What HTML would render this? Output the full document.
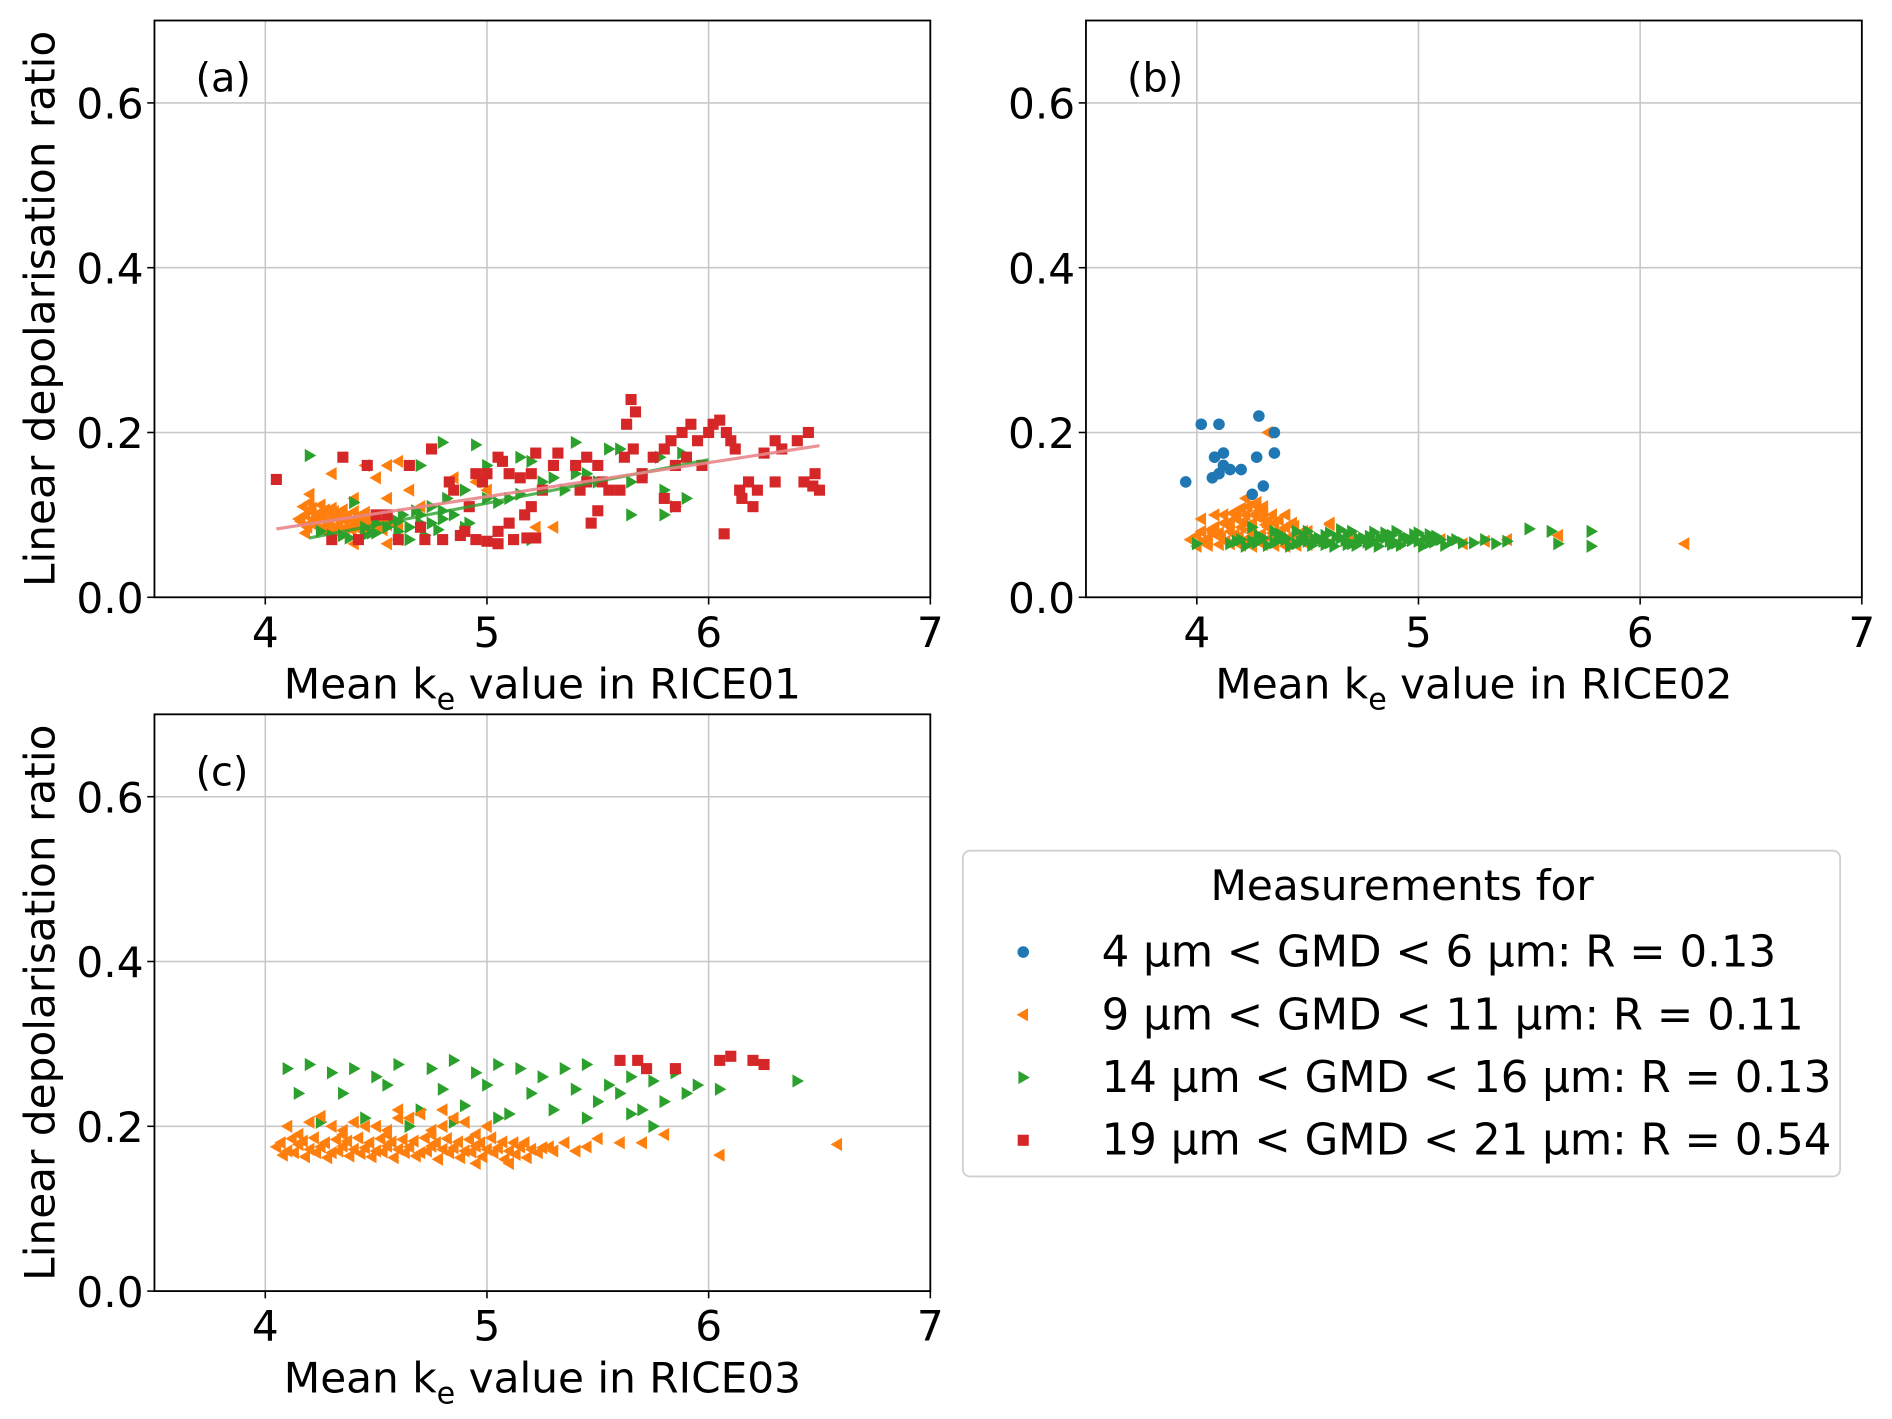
<!DOCTYPE html>
<html><head><meta charset="utf-8"><style>
html,body{margin:0;padding:0;background:#fff}
svg{display:block;font-family:"DejaVu Sans","Liberation Sans",sans-serif}
</style></head><body>
<svg id="fig" width="1892" height="1419" viewBox="0 0 1568 1176" xmlns="http://www.w3.org/2000/svg"></svg>
<script>
// ---------- DATA ----------
// Panel (a) RICE01
const aOrangeX=[4.15,4.18,4.2,4.22,4.25,4.28,4.3,4.33,4.35,4.38,4.4,4.43,4.45,4.48,4.5,4.52,4.55,4.17,4.21,4.24,4.27,4.31,4.34,4.37,4.41,4.44,4.47,4.5,4.19,4.23,4.26,4.29,4.32,4.36,4.39,4.42,4.46,4.53,4.2,4.25,4.3,4.35,4.4,4.45,4.2,4.3,4.45,4.55,4.6,4.5,4.4,4.55,4.65,4.7,4.85,4.95,5.0,5.3,5.22,4.55,4.4,4.6,4.18,4.28,4.16,4.19,4.22,4.26,4.29,4.33,4.37,4.41,4.45,4.49,4.53,4.57,4.6,4.24,4.32,4.38];
const aOrangeY=[0.095,0.1,0.105,0.09,0.098,0.092,0.1,0.088,0.095,0.09,0.094,0.1,0.088,0.092,0.09,0.085,0.088,0.11,0.108,0.1,0.106,0.104,0.101,0.098,0.097,0.095,0.097,0.098,0.085,0.086,0.085,0.083,0.082,0.084,0.082,0.083,0.081,0.082,0.115,0.112,0.108,0.106,0.104,0.103,0.125,0.15,0.16,0.16,0.165,0.145,0.12,0.12,0.13,0.11,0.145,0.14,0.13,0.085,0.085,0.065,0.065,0.07,0.078,0.078,0.092,0.088,0.096,0.094,0.09,0.094,0.092,0.088,0.093,0.089,0.092,0.09,0.088,0.102,0.097,0.087];
const aGreenX=[4.2,4.8,4.95,4.7,4.4,5.4,5.55,5.15,5.0,5.2,5.4,5.45,5.6,5.35,5.5,5.65,5.8,5.9,5.65,5.8,5.85,5.88,5.78,4.3,4.35,4.45,4.5,4.6,4.65,4.7,4.75,4.8,4.85,4.9,5.0,5.05,5.1,5.15,4.58,4.62,4.68,4.72,4.55,4.5,4.75,4.82,4.9,5.2,4.65,4.45,4.48,4.8,4.92,5.25,5.3,4.25,4.38,4.6,4.7,4.78];
const aGreenY=[0.172,0.188,0.185,0.16,0.115,0.188,0.18,0.17,0.16,0.165,0.15,0.15,0.18,0.13,0.14,0.14,0.13,0.12,0.1,0.1,0.11,0.175,0.17,0.075,0.075,0.075,0.078,0.08,0.085,0.09,0.09,0.095,0.1,0.085,0.12,0.115,0.12,0.125,0.095,0.1,0.105,0.075,0.085,0.09,0.11,0.12,0.13,0.07,0.07,0.085,0.078,0.105,0.09,0.14,0.145,0.08,0.072,0.092,0.1,0.082];
const aRedX=[4.05,4.35,4.46,4.5,4.55,4.65,4.75,4.85,4.95,4.98,5.05,5.07,5.1,5.15,5.2,5.22,5.25,5.3,5.32,5.4,5.45,5.42,5.5,5.52,5.55,5.6,5.62,5.65,5.67,5.63,5.66,5.7,5.75,5.8,5.83,5.85,5.88,5.9,5.92,5.95,5.97,6.0,6.02,6.05,6.08,6.1,6.12,6.14,6.15,6.18,6.2,6.22,6.25,6.3,6.33,6.3,6.4,6.45,6.43,6.47,6.5,6.48,6.07,5.8,5.85,5.47,5.5,4.6,4.72,4.8,4.88,5.0,5.05,5.12,5.18,5.22,4.95,5.1,5.05,4.7,4.9,4.42,4.3,5.17,5.2,4.92,5.45,5.7,5.0,4.83];
const aRedY=[0.143,0.17,0.16,0.1,0.1,0.16,0.18,0.13,0.15,0.14,0.17,0.165,0.15,0.145,0.15,0.175,0.13,0.16,0.175,0.16,0.17,0.13,0.16,0.14,0.13,0.13,0.17,0.24,0.225,0.21,0.18,0.15,0.17,0.18,0.19,0.16,0.2,0.17,0.21,0.19,0.16,0.2,0.21,0.215,0.2,0.19,0.18,0.13,0.12,0.14,0.11,0.13,0.175,0.19,0.18,0.14,0.19,0.2,0.14,0.135,0.13,0.15,0.077,0.12,0.11,0.09,0.105,0.07,0.07,0.07,0.075,0.068,0.065,0.07,0.072,0.072,0.07,0.09,0.08,0.085,0.08,0.07,0.07,0.1,0.11,0.11,0.14,0.145,0.15,0.14];
const aRedFit=[[4.05,0.083],[6.5,0.184]];
const aGreenFit=[[4.2,0.072],[6.0,0.167]];
// Panel (b) RICE02
const bBlueX=[3.95,4.02,4.1,4.08,4.1,4.12,4.12,4.15,4.2,4.28,4.27,4.3,4.25,4.35,4.35,4.07];
const bBlueY=[0.14,0.21,0.21,0.17,0.15,0.175,0.16,0.155,0.155,0.22,0.17,0.135,0.125,0.2,0.175,0.145];
const bOrangeX=[3.97,4.0,4.02,4.05,4.08,4.1,4.12,4.15,4.18,4.2,4.22,4.25,4.28,4.3,4.32,4.35,4.38,4.4,4.45,4.5,4.55,4.6,4.0,4.05,4.1,4.15,4.2,4.25,4.3,4.35,4.4,4.45,4.5,4.12,4.18,4.23,4.27,4.3,4.34,4.22,4.26,4.3,4.02,4.08,4.15,4.22,4.28,4.35,4.42,4.5,4.6,4.7,4.8,4.9,5.0,5.1,5.2,5.3,5.4,5.63,6.2,4.32,4.25,4.4,4.05,4.6,4.03,4.07,4.11,4.14,4.17,4.21,4.24,4.27,4.31,4.34,4.37,4.41,4.44,4.48,4.06,4.13,4.19,4.24,4.29,4.33,4.38,4.43,4.2,4.26,4.32,4.16];
const bOrangeY=[0.07,0.075,0.08,0.072,0.085,0.078,0.09,0.08,0.095,0.085,0.1,0.09,0.105,0.095,0.085,0.09,0.08,0.085,0.075,0.07,0.068,0.066,0.062,0.063,0.064,0.065,0.063,0.062,0.064,0.063,0.062,0.063,0.064,0.1,0.105,0.11,0.115,0.11,0.1,0.12,0.112,0.105,0.095,0.1,0.092,0.07,0.075,0.07,0.072,0.08,0.088,0.07,0.068,0.065,0.066,0.07,0.065,0.068,0.07,0.075,0.065,0.2,0.078,0.1,0.068,0.09,0.068,0.078,0.072,0.088,0.076,0.092,0.082,0.098,0.088,0.078,0.094,0.072,0.086,0.08,0.082,0.068,0.074,0.07,0.076,0.072,0.068,0.09,0.108,0.1,0.092,0.102];
const bGreenX=[4.15,4.2,4.25,4.3,4.35,4.4,4.45,4.5,4.55,4.6,4.65,4.7,4.75,4.8,4.85,4.9,4.95,5.0,5.05,5.1,5.15,5.2,4.22,4.32,4.42,4.52,4.62,4.72,4.82,4.92,5.02,5.12,4.28,4.38,4.48,4.58,4.68,4.78,4.88,4.98,5.08,4.5,4.6,4.7,4.8,4.9,5.0,4.55,4.75,4.95,5.3,5.4,5.5,5.6,5.78,5.63,5.78,4.0,4.45,4.65,4.85,5.05,4.25,4.35,4.18,4.27,4.37,4.47,4.57,4.67,4.77,4.87,4.97,5.07,5.17,4.4,4.53,4.63,4.73,4.83,4.93,5.03,4.58,4.68,4.78,4.88,5.25,5.35];
const bGreenY=[0.065,0.07,0.068,0.072,0.066,0.07,0.065,0.068,0.07,0.066,0.072,0.065,0.07,0.068,0.072,0.066,0.07,0.068,0.066,0.07,0.068,0.066,0.062,0.063,0.062,0.063,0.062,0.063,0.062,0.063,0.062,0.063,0.075,0.076,0.074,0.075,0.076,0.074,0.075,0.076,0.074,0.08,0.078,0.08,0.079,0.08,0.078,0.072,0.072,0.072,0.07,0.068,0.083,0.08,0.08,0.065,0.062,0.065,0.08,0.082,0.078,0.076,0.085,0.08,0.068,0.066,0.069,0.067,0.068,0.069,0.067,0.068,0.069,0.067,0.07,0.072,0.071,0.073,0.071,0.072,0.073,0.071,0.064,0.064,0.064,0.064,0.066,0.065];
// Panel (c) RICE03
const cOrangeX=[4.05,4.1,4.15,4.2,4.25,4.3,4.35,4.4,4.45,4.5,4.55,4.6,4.65,4.7,4.75,4.8,4.85,4.9,4.95,5.0,5.05,5.1,5.15,5.2,5.25,5.3,4.08,4.18,4.28,4.38,4.48,4.58,4.68,4.78,4.88,4.98,5.08,5.18,4.12,4.22,4.32,4.42,4.52,4.62,4.72,4.82,4.92,5.02,4.1,4.2,4.3,4.4,4.5,4.6,4.7,4.8,4.9,5.0,4.25,4.45,4.65,4.85,5.5,5.7,5.8,6.05,6.58,5.4,5.1,5.35,4.35,4.55,4.75,4.95,4.07,4.13,4.17,4.23,4.27,4.33,4.37,4.43,4.47,4.53,4.57,4.63,4.67,4.73,4.77,4.83,4.87,4.93,4.97,5.03,5.07,5.13,5.17,5.23,4.15,4.35,4.55,4.75,4.95,5.12,5.28,5.45,5.6,4.6,4.8];
const cOrangeY=[0.175,0.17,0.178,0.172,0.175,0.168,0.176,0.172,0.174,0.17,0.176,0.172,0.175,0.168,0.176,0.172,0.174,0.17,0.176,0.172,0.174,0.17,0.175,0.172,0.174,0.17,0.165,0.163,0.162,0.164,0.163,0.162,0.164,0.16,0.162,0.163,0.16,0.162,0.185,0.186,0.184,0.186,0.185,0.184,0.186,0.185,0.184,0.186,0.2,0.205,0.2,0.205,0.2,0.21,0.215,0.2,0.205,0.2,0.212,0.2,0.21,0.21,0.185,0.18,0.19,0.165,0.178,0.17,0.155,0.18,0.195,0.195,0.195,0.155,0.18,0.168,0.182,0.168,0.18,0.17,0.182,0.167,0.18,0.169,0.181,0.168,0.182,0.17,0.18,0.168,0.181,0.169,0.18,0.168,0.181,0.166,0.18,0.168,0.19,0.19,0.19,0.19,0.19,0.18,0.175,0.175,0.18,0.22,0.22];
const cGreenX=[4.1,4.2,4.3,4.4,4.5,4.6,4.75,4.85,4.95,5.05,5.15,5.25,5.35,5.45,5.55,5.65,5.75,5.85,5.95,6.05,6.4,4.15,4.35,4.55,4.8,5.0,5.2,5.4,5.6,5.7,5.8,5.9,4.7,4.9,5.1,5.3,5.5,4.25,4.45,4.65,4.85,5.05,5.45,5.65,5.75];
const cGreenY=[0.27,0.275,0.265,0.27,0.26,0.275,0.27,0.28,0.265,0.275,0.27,0.26,0.27,0.275,0.25,0.26,0.255,0.265,0.25,0.245,0.255,0.24,0.24,0.25,0.245,0.25,0.24,0.245,0.24,0.22,0.23,0.24,0.22,0.225,0.215,0.22,0.23,0.205,0.21,0.2,0.205,0.21,0.21,0.215,0.2];
const cRedX=[5.6,5.68,5.72,5.85,6.05,6.1,6.2,6.25];
const cRedY=[0.28,0.28,0.27,0.27,0.28,0.285,0.28,0.275];
const xTicks=[4,5,6,7];
const yTicks=[0.0,0.2,0.4,0.6];
const yTickLabels=["0.0","0.2","0.4","0.6"];
const legendLabels=["4 µm < GMD < 6 µm: R = 0.13","9 µm < GMD < 11 µm: R = 0.11","14 µm < GMD < 16 µm: R = 0.13","19 µm < GMD < 21 µm: R = 0.54"];

// ---------- DRAW ----------
const NS="http://www.w3.org/2000/svg";
const svg=document.getElementById('fig');
const C={blue:"#1f77b4",orange:"#ff7f0e",green:"#2ca02c",red:"#d62728"};
function mk(tag,attrs,parent){const e=document.createElementNS(NS,tag);for(const k in attrs)e.setAttribute(k,attrs[k]);(parent||svg).appendChild(e);return e;}
function marker(kind,cx,cy,color,g){
  let e;
  if(kind==='circle'){e=mk('circle',{cx:cx,cy:cy,r:4.8,fill:color},g);}
  else if(kind==='square'){e=mk('rect',{x:cx-4.6,y:cy-4.6,width:9.2,height:9.2,fill:color},g);}
  else if(kind==='left'){e=mk('polygon',{points:`${cx-5.5},${cy} ${cx+4},${cy-5.5} ${cx+4},${cy+5.5}`,fill:color},g);}
  else {e=mk('polygon',{points:`${cx+5.5},${cy} ${cx-4},${cy-5.5} ${cx-4},${cy+5.5}`,fill:color},g);}
  return e;
}
function panel(id,L,T,label,xlab){
  const W=643,H=478;
  const sx=v=>L+(v-3.5)/3.5*W;
  const sy=v=>T+H-v/0.7*H;
  const g=mk('g',{});
  
  
  xTicks.forEach(t=>{const l=mk('line',{x1:sx(t),x2:sx(t),y1:T,y2:T+H,stroke:"#c8c8c8","stroke-width":1.3},g);
    });
  yTicks.forEach(t=>{const l=mk('line',{x1:L,x2:L+W,y1:sy(t),y2:sy(t),stroke:"#c8c8c8","stroke-width":1.3},g);
    });
  return {g,sx,sy,L,T,W,H,id,label,xlab};
}
function finish(p){
  const {g,sx,sy,L,T,W,H}=p;
  const r=mk('rect',{x:L,y:T,width:W,height:H,fill:"none",stroke:"#000","stroke-width":1.5},g);
  
  xTicks.forEach(t=>{mk('line',{x1:sx(t),x2:sx(t),y1:T+H,y2:T+H+6,stroke:"#000","stroke-width":1.3},g);
    const tx=mk('text',{x:sx(t),y:T+H+41,"font-size":35,"text-anchor":"middle",fill:"#000"},g);tx.textContent=t;
    });
  yTicks.forEach((t,i)=>{mk('line',{x1:L-6,x2:L,y1:sy(t),y2:sy(t),stroke:"#000","stroke-width":1.3},g);
    const tx=mk('text',{x:L-9,y:sy(t)+13,"font-size":35,"text-anchor":"end",fill:"#000"},g);tx.textContent=yTickLabels[i];
    });
  const pl=mk('text',{x:L+34,y:T+59,"font-size":33,fill:"#000"},g);pl.textContent=p.label;
  
  const xl=mk('text',{x:L+W/2,y:T+H+84,"font-size":35,"text-anchor":"middle",fill:"#000"},g);
  
  xl.innerHTML='Mean k<tspan dy="9" font-size="25">e</tspan><tspan dy="-9"> value in '+p.xlab+'</tspan>';
  if(p.id!=='b'){
    const yl=mk('text',{x:0,y:0,"font-size":35,"text-anchor":"middle",fill:"#000",transform:`translate(${L-83},${T+H/2}) rotate(-90)`},g);
    yl.textContent='Linear depolarisation ratio';
    
  }
}
function series(p,xs,ys,kind,color,name){
  const s=mk('g',{},p.g);
  
  
  xs.forEach((x,i)=>{const m=marker(kind,p.sx(x),p.sy(ys[i]),color,s);
    });
}
function fit(p,pts,color,name,op){
  const l=mk('line',{x1:p.sx(pts[0][0]),y1:p.sy(pts[0][1]),x2:p.sx(pts[1][0]),y2:p.sy(pts[1][1]),stroke:color,"stroke-width":2.6,"stroke-opacity":op},p.g);
  
}

const pa=panel('a',128,17,'(a)','RICE01');
series(pa,aOrangeX,aOrangeY,'left',C.orange,'orange-series-a');
series(pa,aGreenX,aGreenY,'right',C.green,'green-series-a');
series(pa,aRedX,aRedY,'square',C.red,'red-series-a');
fit(pa,aGreenFit,C.green,'green-fit-line-a',0.8);
fit(pa,aRedFit,"#e8868a",'red-fit-line-a',0.9);
finish(pa);

const pb=panel('b',900,17,'(b)','RICE02');
series(pb,bOrangeX,bOrangeY,'left',C.orange,'orange-series-b');
series(pb,bGreenX,bGreenY,'right',C.green,'green-series-b');
series(pb,bBlueX,bBlueY,'circle',C.blue,'blue-series-b');
finish(pb);

const pc=panel('c',128,592,'(c)','RICE03');
series(pc,cGreenX,cGreenY,'right',C.green,'green-series-c');
series(pc,cOrangeX,cOrangeY,'left',C.orange,'orange-series-c');
series(pc,cRedX,cRedY,'square',C.red,'red-series-c');
finish(pc);

// legend
const lg=mk('g',{});


mk('rect',{x:798,y:705,width:727,height:270,rx:6,fill:"#fff",stroke:"#d0d0d0","stroke-width":1.5},lg);
const lt=mk('text',{x:1162,y:746,"font-size":35,"text-anchor":"middle",fill:"#000"},lg);
lt.textContent='Measurements for';

const kinds=['circle','left','right','square'],cols=[C.blue,C.orange,C.green,C.red];
legendLabels.forEach((t,i)=>{
  const y=789+i*52;
  const e=mk('g',{},lg);
  
  
  marker(kinds[i],848,y,cols[i],e);
  const tx=mk('text',{x:913,y:y+12,"font-size":36,fill:"#000"},e);tx.textContent=t;
});
</script>
</body></html>
